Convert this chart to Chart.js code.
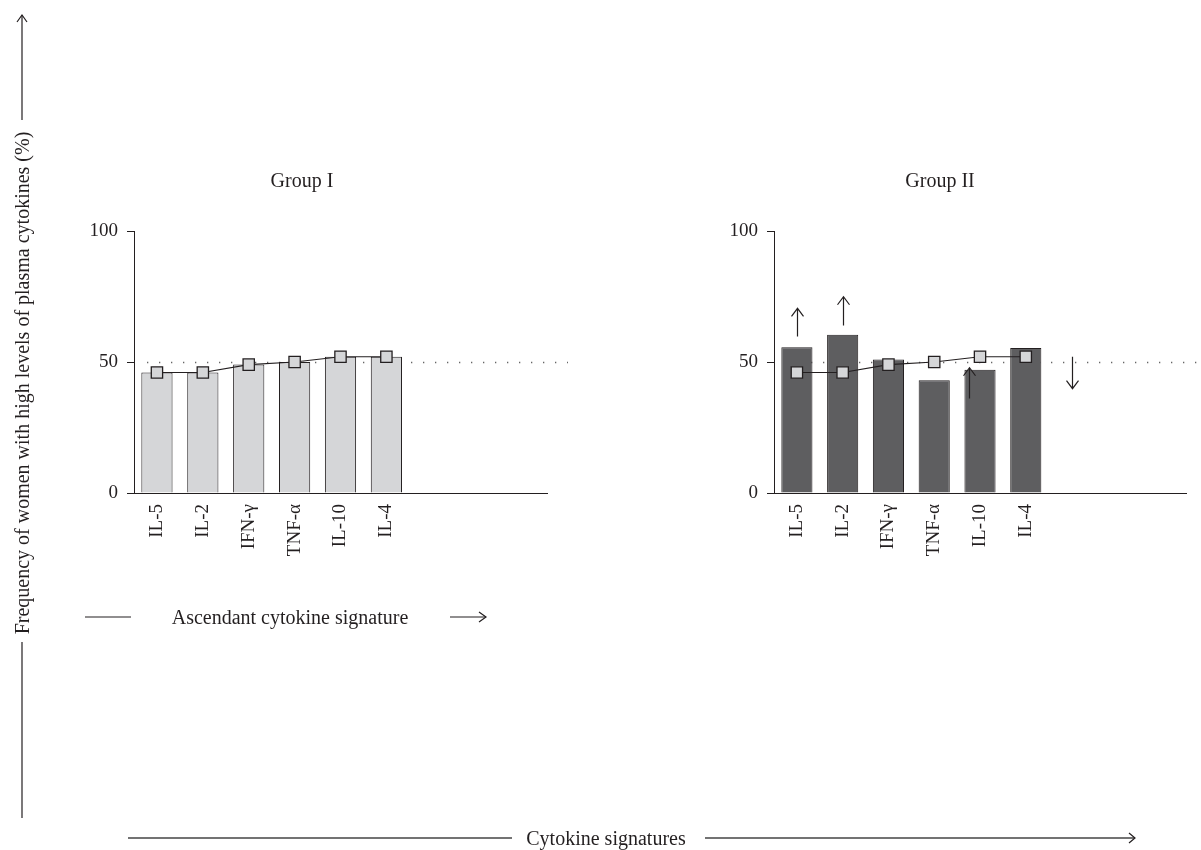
<!DOCTYPE html>
<html><head><meta charset="utf-8">
<script src="https://cdn.jsdelivr.net/npm/chart.js@4.4.1/dist/chart.umd.min.js"></script>
<style>
html,body{margin:0;padding:0;background:#fff}
body{width:1201px;height:850px;position:relative;overflow:hidden;font-family:'Liberation Serif','Times New Roman',serif;color:#231f20}
canvas{position:absolute}
.lbl{position:absolute;font-size:20px;white-space:nowrap;line-height:1;transform:translate(-50%,-50%)}
.vlbl{position:absolute;font-size:20px;white-space:nowrap;line-height:1;transform:translate(-50%,-50%) rotate(-90deg)}
svg{position:absolute;left:0;top:0}
</style></head><body>
<canvas id="c1" width="511" height="443" style="left:57px;top:140px"></canvas>
<canvas id="c2" width="507" height="443" style="left:694px;top:140px"></canvas>
<svg width="1201" height="850" viewBox="0 0 1201 850">
 <g stroke="#231f20" stroke-width="1.2" fill="none">
  <line x1="85" y1="617" x2="131" y2="617"/>
  <line x1="450" y1="617" x2="486" y2="617"/>
  <polyline points="479,612 486,617 479,622"/>
  <line x1="22" y1="642" x2="22" y2="818"/>
  <line x1="22" y1="120" x2="22" y2="15"/>
  <polyline points="17,22 22,15 27,22"/>
 </g>
 <g stroke="#444" stroke-width="1.6" fill="none">
  <line x1="128" y1="838" x2="512" y2="838"/>
  <line x1="705" y1="838" x2="1135" y2="838"/>
 </g>
 <polyline points="1129,833 1135,838 1129,843" stroke="#231f20" stroke-width="1.2" fill="none"/>
</svg>
<div class="lbl" style="left:290px;top:617px">Ascendant cytokine signature</div>
<div class="lbl" style="left:606px;top:838px">Cytokine signatures</div>
<div class="vlbl" style="left:22px;top:383px">Frequency of women with high levels of plasma cytokines (%)</div>
<script>
// ---- data ----
const categories = ['IL-5', 'IL-2', 'IFN-\u03b3', 'TNF-\u03b1', 'IL-10', 'IL-4', '', '', ''];
const ascendantSignature = [46, 46, 49, 50, 52, 52];
const groupIValues = [46, 46, 49, 50, 52, 52];
const groupIIValues = [55.6, 60.4, 51, 43, 47, 55.3];
const yTicks = [0, 50, 100];
const referenceLevel = 50;
const groupIArrows = [];
const groupIIArrows = [
  {x: 0, from: 59.7, to: 70.5},
  {x: 1, from: 63.9, to: 74.9},
  {x: 3.77, from: 36.1, to: 47.8},
  {x: 6, from: 52, to: 39.8}
];

const INK = '#231f20';
const FONT = "'Liberation Serif','Times New Roman',serif";

const refLinePlugin = {
  id: 'refLine',
  beforeDatasetsDraw(chart) {
    const xs = chart.scales.x, ys = chart.scales.y;
    const y = Math.round(ys.getPixelForValue(referenceLevel)) + 0.5;
    const ctx = chart.ctx;
    ctx.save();
    ctx.strokeStyle = '#666';
    ctx.lineWidth = 1.3;
    ctx.setLineDash([1.3, 10.7]);
    ctx.beginPath();
    ctx.moveTo(xs.left + 13, y);
    ctx.lineTo(xs.right + 21, y);
    ctx.stroke();
    ctx.restore();
  }
};

const arrowPlugin = {
  id: 'arrows',
  afterDraw(chart, args, opts) {
    const xs = chart.scales.x, ys = chart.scales.y;
    const ctx = chart.ctx;
    ctx.save();
    ctx.strokeStyle = INK;
    ctx.lineWidth = 1.2;
    (opts.items || []).forEach(a => {
      const px = Math.round(xs.getPixelForValue(a.x)) + 0.5;
      const y1 = ys.getPixelForValue(a.from);
      const y2 = ys.getPixelForValue(a.to);
      const dir = y2 < y1 ? 1 : -1;
      ctx.beginPath();
      ctx.moveTo(px, y1);
      ctx.lineTo(px, y2);
      ctx.moveTo(px - 6, y2 + dir * 8);
      ctx.lineTo(px, y2);
      ctx.lineTo(px + 6, y2 + dir * 8);
      ctx.stroke();
    });
    ctx.restore();
  }
};

function makeChart(id, title, values, fill, arrows, yWidth, padRight) {
  return new Chart(document.getElementById(id), {
    data: {
      labels: categories,
      datasets: [
        {
          type: 'line', data: ascendantSignature, order: 1,
          borderColor: INK, borderWidth: 1.2, tension: 0,
          pointStyle: 'rect', pointRadius: 8, pointHoverRadius: 8,
          pointBackgroundColor: '#d5d6d8', pointBorderColor: INK, pointBorderWidth: 1.3
        },
        {
          type: 'bar', data: values, order: 2,
          backgroundColor: fill, borderColor: INK, borderWidth: 1,
          categoryPercentage: 1, barPercentage: 0.68
        }
      ]
    },
    options: {
      responsive: false,
      animation: false,
      devicePixelRatio: 1,
      layout: {padding: {left: 0, right: padRight, top: 0, bottom: 0}},
      plugins: {
        legend: {display: false},
        tooltip: {enabled: false},
        title: {
          display: true, text: title, color: INK,
          font: {family: FONT, size: 20, weight: 'normal', lineHeight: 1.2},
          padding: {top: 30, bottom: 37}
        },
        arrows: {items: arrows}
      },
      scales: {
        x: {
          type: 'category',
          grid: {display: false, drawTicks: false},
          border: {display: true, color: INK, width: 1},
          ticks: {
            autoSkip: false, minRotation: 90, maxRotation: 90, padding: 11,
            color: INK, font: {family: FONT, size: 19}
          },
          afterFit(s) { s.height = 90; }
        },
        y: {
          min: 0, max: 100,
          afterBuildTicks(s) { s.ticks = yTicks.map(v => ({value: v})); },
          grid: {drawOnChartArea: false, drawTicks: true, tickLength: 7, color: INK},
          border: {display: true, color: INK, width: 1},
          ticks: {padding: 9, color: INK, font: {family: FONT, size: 19}},
          afterFit(s) { s.width = yWidth; }
        }
      }
    },
    plugins: [refLinePlugin, arrowPlugin]
  });
}

makeChart('c1', 'Group I', groupIValues, '#d5d6d8', groupIArrows, 77, 21);
makeChart('c2', 'Group II', groupIIValues, '#5e5e60', groupIIArrows, 80, 15);
</script>
</body></html>
